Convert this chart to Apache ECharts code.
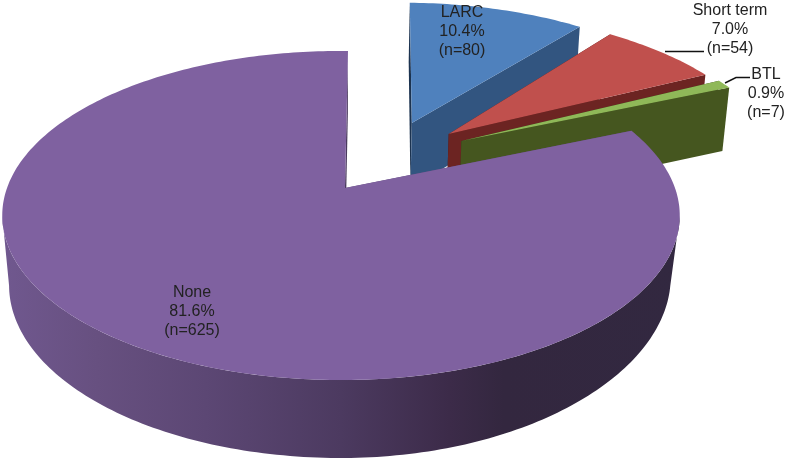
<!DOCTYPE html>
<html>
<head>
<meta charset="utf-8">
<style>html,body{margin:0;padding:0;background:#fff}#c{width:787px;height:459px}</style>
<script src="https://cdn.jsdelivr.net/npm/echarts@6/dist/echarts.min.js"></script>
</head>
<body>
<div id="c"></div>
<script>
// ---- data ----
const categories = ['LARC', 'Short term', 'BTL', 'None'];
const counts = [80, 54, 7, 625];
const percents = ['10.4%', '7.0%', '0.9%', '81.6%'];

// ---- styling / layout, separate from the data ----
const topColors = ['#4f81bd', '#c0504d', '#8fb858', '#7f61a0'];
const sideColors = ['#325580', '#6c2422', '#45561f', '#4a3a5e'];
const edgeColors = ['#1c3350', '#4a1716', '#2e3a14', '#5f4a78'];
const explodeOffsets = [[0.2274, -0.436], [0.3417, -0.3577], [0.379, -0.309], [0, 0]];
const apexShifts = [0, 0, 0, 0.0119];
const angleNudges = [1, 0, 0, 0.8];
const labelAnchors = [[462, 13], [730, 11], [766, 75], [192, 293]];
const startDeg = 0.6;
const lineHeight = 18.7;
// projection of the pie's plane onto the screen
const P = {x0: 341, y0: 188, a: 160, b: 334, k: 0.167, c: 0.02, h: 70.3, q: 16};
function project(u, v, z) {
  const den = 1 - P.k * v + P.c * z;
  const skew = z * P.q * Math.max(0, u) * Math.max(0, v);
  return [P.x0 + P.b * u / den - skew, P.y0 + (P.a * v + P.h * z) / den];
}
const total = counts.reduce((s, n) => s + n, 0);
const spans = counts.map(n => n / total * 360);
// angles (clockwise from the back of the pie) at which the wall meets the outline
const wallFrom = Math.acos(-P.k) * 180 / Math.PI;
const wallTo = 360 - wallFrom;

function corner(i, deg, z) {
  const o = explodeOffsets[i], r = deg * Math.PI / 180;
  return project(o[0] + Math.sin(r), o[1] - Math.cos(r), z);
}
function apex(i, z) { return project(explodeOffsets[i][0] + apexShifts[i], explodeOffsets[i][1], z); }
function arc(i, a0, a1, z) {
  const n = Math.max(2, Math.ceil(Math.abs(a1 - a0))), pts = [];
  for (let j = 0; j <= n; j++) pts.push(corner(i, a0 + (a1 - a0) * j / n, z));
  return pts;
}
const sideGradient = {type: 'linear', x: 0, y: 0, x2: 1, y2: 0, colorStops: [
  {offset: 0, color: '#70588f'}, {offset: 0.14, color: '#675080'}, {offset: 0.3, color: '#5c4774'},
  {offset: 0.5, color: '#4c3a60'}, {offset: 0.66, color: '#3c2b49'}, {offset: 0.74, color: '#33273f'},
  {offset: 1, color: '#322840'}
]};

function renderItem(params, api) {
  const i = params.dataIndex;
  let a0 = startDeg + angleNudges[i];
  for (let j = 0; j < i; j++) a0 += spans[j];
  const a1 = a0 + api.value(0) / total * 360;
  const kids = [];
  const poly = (points, fill) => kids.push({type: 'polygon', shape: {points}, style: {fill}});
  // radial faces
  poly([apex(i, 0), corner(i, a0, 0), corner(i, a0, 1), apex(i, 1)], edgeColors[i]);
  poly([apex(i, 0), corner(i, a1, 0), corner(i, a1, 1), apex(i, 1)], sideColors[i]);
  // outer wall: only the part of the rim that faces the viewer
  const w0 = Math.max(a0, wallFrom), w1 = Math.min(a1, wallTo);
  if (w1 > w0) poly(arc(i, w0, w1, 0).concat(arc(i, w1, w0, 1)), sideGradient);
  // top face
  poly([apex(i, 0)].concat(arc(i, a0, a1, 0)), topColors[i]);
  // label
  const la = labelAnchors[i];
  [categories[i], percents[i], '(n=' + counts[i] + ')'].forEach((t, j) => kids.push({
    type: 'text', x: la[0], y: la[1] + j * lineHeight,
    style: {text: t, fill: '#222', font: '16px "Liberation Sans"', align: 'center', verticalAlign: 'middle'}
  }));
  return {type: 'group', children: kids};
}

const chart = echarts.init(document.getElementById('c'), null, {renderer: 'canvas'});
chart.setOption({
  animation: false,
  backgroundColor: '#fff',
  series: [{
    type: 'custom',
    coordinateSystem: 'none',
    silent: true,
    clip: false,
    renderItem,
    data: counts.map(n => [n])
  }],
  graphic: [
    {type: 'polyline', z: 10, shape: {points: [[665, 51.5], [704, 51.5]]}, style: {stroke: '#111', lineWidth: 1.4, fill: null}},
    {type: 'polyline', z: 10, shape: {points: [[725, 83], [736, 77.5], [750, 77.5]]}, style: {stroke: '#111', lineWidth: 1.4, fill: null}}
  ]
});
</script>
</body>
</html>
